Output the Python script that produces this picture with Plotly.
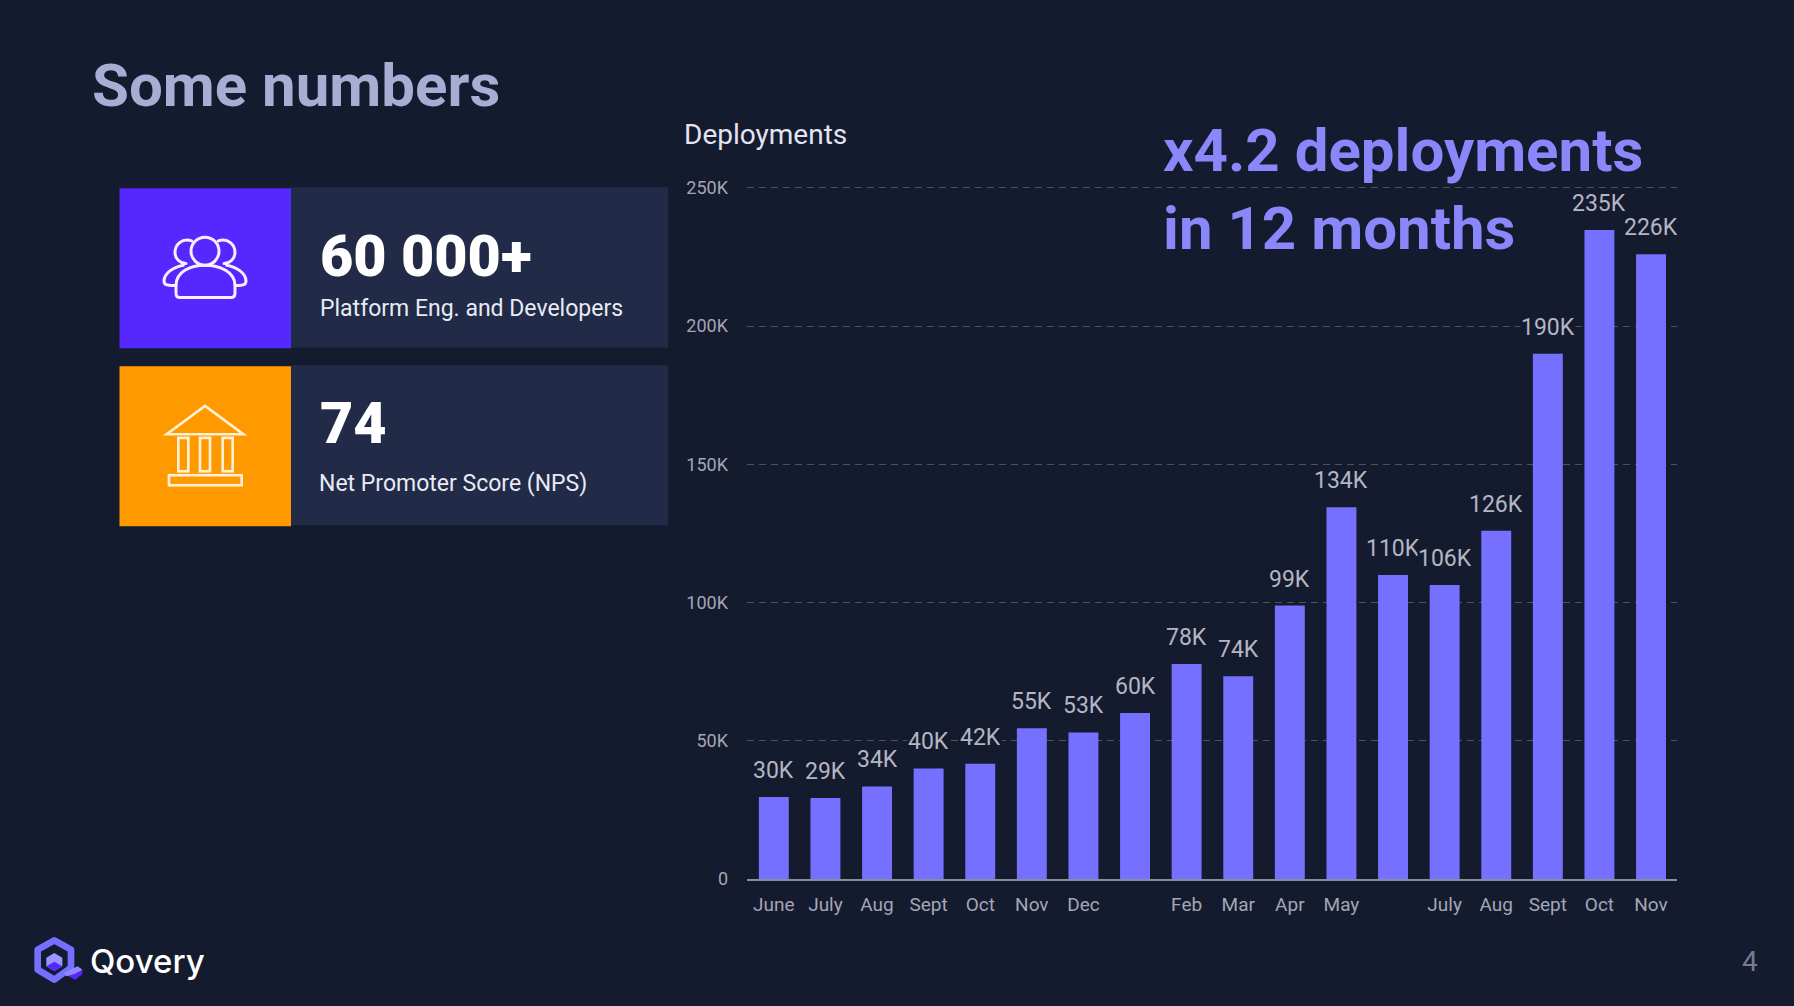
import base64
import plotly.graph_objects as go

W, H = 1794, 1006
L, R, T, B = 747, 117, 173.8, 127.3

tick_labels = ["June", "July", "Aug", "Sept", "Oct", "Nov", "Dec", "", "Feb", "Mar", "Apr", "May", "", "July", "Aug", "Sept", "Oct", "Nov"]
deployments = [29700, 29300, 33500, 40000, 41700, 54500, 53000, 60000, 77800, 73300, 98900, 134500, 110000, 106300, 126000, 190000, 234700, 226000]
value_labels = ["30K", "29K", "34K", "40K", "42K", "55K", "53K", "60K", "78K", "74K", "99K", "134K", "110K", "106K", "126K", "190K", "235K", "226K"]
y_ticks = [0, 50000, 100000, 150000, 200000, 250000]
y_tick_labels = ["0", "50K", "100K", "150K", "200K", "250K"]
positions = list(range(len(deployments)))

BG = "#151b2e"
PANEL = "#212a47"
BAR = "#7570ff"
LABEL = "#b4b6c4"
TICK = "#a4a6b6"


def fx(x):
    return (x - L) / (W - L - R)


def fy(y):
    return 1 - (y - T) / (H - T - B)


def rect(x0, y0, x1, y1, color):
    return dict(type="rect", xref="paper", yref="paper", x0=fx(x0), x1=fx(x1), y0=fy(y0), y1=fy(y1),
                fillcolor=color, line_width=0, layer="below")


def text(x, y, s, size, color, weight=400, family="Roboto", anchor="left"):
    return dict(xref="paper", yref="paper", x=fx(x), y=fy(y), text=s, showarrow=False, xanchor=anchor,
                yanchor="middle", borderpad=0, font=dict(family=family, size=size, color=color, weight=weight))


def svg_image(svg, x, y, w, h):
    uri = "data:image/svg+xml;base64," + base64.b64encode(svg.encode()).decode()
    return dict(source=uri, xref="paper", yref="paper", x=fx(x), y=fy(y), sizex=w / (W - L - R), sizey=h / (H - T - B),
                xanchor="left", yanchor="top", sizing="stretch", layer="above")


people_svg = """<svg xmlns="http://www.w3.org/2000/svg" viewBox="0 0 330 270" width="330" height="270">
<g fill="none" stroke="#f9eeff" stroke-width="9" stroke-linecap="round" stroke-linejoin="round">
<circle cx="165" cy="93" r="42"/>
<path d="M90 232 Q78 232 78 218 L78 195 C78 155 120 135 165 135 C210 135 255 155 255 195 L255 218 Q255 232 242 232 Z"/>
<path d="M125 62 C95 52 75 75 75 97 C75 115 90 130 108 130"/>
<path d="M205 62 C235 52 255 75 255 97 C255 115 240 130 222 130"/>
<path d="M100 135 C70 140 42 160 42 182 C42 195 55 197 78 195"/>
<path d="M230 135 C260 140 288 160 288 182 C288 195 275 197 255 195"/>
</g></svg>"""

bank_svg = """<svg xmlns="http://www.w3.org/2000/svg" viewBox="0 0 330 300" width="330" height="300">
<g fill="none" stroke="#fff0d6" stroke-width="8" stroke-linejoin="miter">
<path d="M50 117 L165 32 L280 117 Z"/>
<rect x="85" y="128" width="30" height="100"/>
<rect x="150" y="128" width="30" height="100"/>
<rect x="218" y="128" width="30" height="100"/>
<rect x="57" y="240" width="218" height="30"/>
</g></svg>"""

logo_svg = """<svg xmlns="http://www.w3.org/2000/svg" viewBox="0 0 210 180" width="210" height="180">
<path d="M118 122 L158 110 L172 118 L172 132 L150 148 L128 136 Z" fill="#5528ff"/>
<path d="M88 30 L138 58 L138 112 L88 148 L38 118 L38 58 Z" fill="none" stroke="#7570ff" stroke-width="20" stroke-linejoin="round"/>
<path d="M115 128 L158 108 L172 118 L150 130 L125 138 Z" fill="#8f8aff"/>
<path d="M88 68 L112 82 L112 108 L88 122 L64 108 L64 82 Z" fill="#9a96ff"/>
<path d="M64 108 L88 94 L112 108 L88 122 Z" fill="#5528ff"/>
</svg>"""

fig = go.Figure(go.Bar(x=positions, y=deployments, marker=dict(color=BAR, line_width=0), width=0.58, hoverinfo="skip"))

annotations = [
    dict(x=xi, y=v, xref="x", yref="y", text=lab, showarrow=False, yanchor="bottom", yshift=12, borderpad=0,
         bgcolor=BG, font=dict(family="Roboto", size=23, color=LABEL))
    for xi, v, lab in zip(positions, deployments, value_labels)
]
annotations += [
    text(91, 85, "Some numbers", 60, "#a9add4", 700),
    text(683, 134, "Deployments", 28, "#e2e4f2"),
    text(1162, 150, "x4.2 deployments", 60, "#8a87fb", 700),
    text(1162, 228, "in 12 months", 60, "#8a87fb", 700),
    text(319, 256, "60 000+", 57.5, "#ffffff", 900),
    text(319, 308, "Platform Eng. and Developers", 23, "#e8eaf4"),
    text(319, 423, "74", 57.5, "#ffffff", 900),
    text(318, 483, "Net Promoter Score (NPS)", 23, "#e8eaf4"),
    text(89, 961, "Qovery", 33, "#ffffff", 500, "Inter"),
    text(1750, 961, "4", 28, "#787c90", 400, "Roboto", "center"),
]

fig.update_layout(
    width=W, height=H, autosize=False,
    margin=dict(l=L, r=R, t=T, b=B, pad=0),
    paper_bgcolor=BG, plot_bgcolor=BG,
    showlegend=False,
    xaxis=dict(range=[-0.52, len(positions) - 0.497], tickmode="array", tickvals=positions, ticktext=tick_labels,
               showgrid=False, zeroline=False, showline=True, linecolor="#8a8d9a", linewidth=2, ticks="",
               ticklabelstandoff=7, tickfont=dict(family="Roboto", size=19, color=TICK)),
    yaxis=dict(range=[0, 255000], tickmode="array", tickvals=y_ticks, ticktext=y_tick_labels,
               showgrid=True, gridcolor="#4d5160", gridwidth=1, griddash="7px,5px", zeroline=False, showline=False,
               ticks="", ticklabelstandoff=18, tickfont=dict(family="Roboto", size=18, color=TICK)),
    shapes=[
        rect(291, 187, 668, 347.5, PANEL),
        rect(119.5, 188, 291, 348, "#5528ff"),
        rect(291, 365, 668, 525, PANEL),
        rect(119.5, 366, 291, 526, "#ff9900"),
    ],
    annotations=annotations,
    images=[
        svg_image(people_svg, 150, 220, 110, 90),
        svg_image(bank_svg, 150, 395, 110, 100),
        svg_image(logo_svg, 25, 930, 70, 60),
    ],
)

fig.write_html(
    "out.html",
    config={"displayModeBar": False},
    post_script="document.documentElement.style.background='#151b2e';"
                "document.body.style.margin='0';document.body.style.overflow='hidden';",
)
